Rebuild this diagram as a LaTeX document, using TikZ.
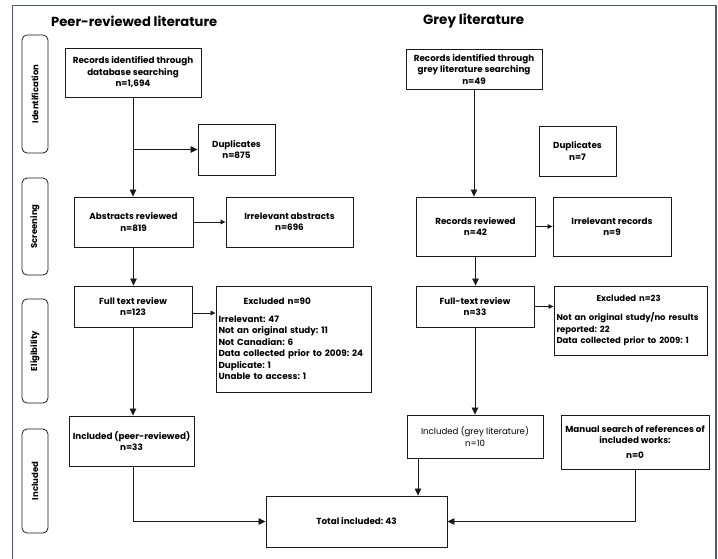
\documentclass[tikz,border=0pt]{standalone}
\usepackage{fontspec}
\usepackage{graphicx}
\setmainfont{Poppins}
\usetikzlibrary{arrows.meta}
\definecolor{framec}{HTML}{4E5A66}
\definecolor{linec}{HTML}{1A1A1A}
\frenchspacing
\hyphenpenalty=10000
\begin{document}
\begin{tikzpicture}[x=1pt,y=-1pt,
  box/.style={draw=linec, line width=0.9pt, fill=white, align=center, inner sep=3pt,
    font=\bfseries\fontsize{8.8}{11.5}\selectfont},
  exbox/.style={box, align=left, inner xsep=2.5pt, inner ysep=5pt},
  stagebox/.style={draw=linec, line width=0.8pt, rounded corners=5pt, rotate=90,
    minimum height=26pt, font=\bfseries\fontsize{8.5}{10}\selectfont},
  ttl/.style={anchor=west, inner sep=0pt, font=\bfseries\fontsize{12}{14}\selectfont},
  arr/.style={draw=linec, line width=0.8pt, -{Triangle[length=7pt,width=6.5pt]}},
  sarr/.style={draw=linec, line width=0.8pt, -{Triangle[length=5pt,width=4.5pt]}}]
\useasboundingbox (0,0) rectangle (718,558);
\draw[framec, line width=1.3pt] (12.5,570) -- (12.5,5.5) -- (716,5.5) -- (716,570);

% titles
\node[ttl] (t1) at (51,21) {\resizebox{166pt}{!}{Peer-reviewed literature}};
\node[ttl] (t2) at (423,21) {\resizebox{101pt}{!}{Grey literature}};

% stage labels
\node[stagebox, minimum width=118pt] (s1) at (35,94) {Identification};
\node[stagebox, minimum width=97pt] (s2) at (35,226.5) {Screening};
\node[stagebox, minimum width=104pt] (s3) at (35,351) {Eligibility};
\node[stagebox, minimum width=104pt] (s4) at (35,481) {Included};

% peer-reviewed column
\node[box, minimum width=136pt, minimum height=49pt] (rec1) at (133,72.5)
  {Records identified through\\database searching\\n=1,694};
\node[box, minimum width=77pt, minimum height=51pt] (dup1) at (236.5,149.5)
  {Duplicates\\n=875};
\node[box, minimum width=119pt, minimum height=50pt] (abs) at (133.5,222)
  {Abstracts reviewed\\n=819};
\node[box, minimum width=127pt, minimum height=50pt] (irrabs) at (289.5,222)
  {Irrelevant abstracts\\n=696};
\node[box, minimum width=118pt, minimum height=41pt] (ftr) at (133,306.5)
  {Full text review\\n=123};
\node[exbox, minimum width=155pt, minimum height=106pt, text width=150pt] (exc90) at (293.5,339)
  {\hspace*{25pt}Excluded n=90\\[6pt]
   Irrelevant: 47\\
   Not an original study: 11\\
   Not Canadian: 6\\
   Data collected prior to 2009: 24\\
   Duplicate: 1\\
   Unable to access: 1};
\node[box, minimum width=125pt, minimum height=50pt] (inc1) at (131.5,441)
  {Included (peer-reviewed)\\n=33};
\node[box, minimum width=181pt, minimum height=51pt] (total) at (356.5,521.5)
  {Total included: 43};

% grey column
\node[box, minimum width=136pt, minimum height=40pt] (rec2) at (474,69)
  {Records identified through\\grey literature searching\\n=49};
\node[box, minimum width=77pt, minimum height=50pt] (dup2) at (577.5,151)
  {Duplicates\\n=7};
\node[box, minimum width=119pt, minimum height=59pt] (recrev) at (475.5,226.5)
  {Records reviewed\\n=42};
\node[box, minimum width=118pt, minimum height=59pt] (irrrec) at (612,226.5)
  {Irrelevant records\\n=9};
\node[box, minimum width=118pt, minimum height=41pt] (ftr2) at (475,306.5)
  {Full-text review\\n=33};
\node[exbox, minimum width=153pt, minimum height=69pt, text width=148pt,
  font=\bfseries\fontsize{8.5}{11.5}\selectfont] (exc23) at (630.5,320.5)
  {\hspace*{40pt}Excluded n=23\\[8pt]
   Not an original study/no results\\
   reported: 22\\
   Data collected prior to 2009: 1};
\node[box, minimum width=136pt, minimum height=43pt, font=\fontsize{8.6}{11.5}\selectfont] (inc2) at (475,436.5)
  {Included (grey literature)\\n=10};
\node[box, minimum width=148pt, minimum height=54pt] (man) at (635,442)
  {Manual search of references of\\included works:\\[3pt]n=0};

% connectors, peer-reviewed
\draw[arr] (rec1.south) -- (rec1.south |- abs.north);
\draw[arr] (rec1.south |- dup1.west) -- (dup1.west);
\draw[sarr] (abs.east) -- (irrabs.west);
\draw[arr] (abs.south) -- (abs.south |- ftr.north);
\draw[sarr] (ftr.east |- 0,313) -- (exc90.west |- 0,313);
\draw[arr] (ftr.south) -- (ftr.south |- inc1.north);
\draw[arr] (ftr.south |- inc1.south) |- (total.west);

% connectors, grey
\draw[arr] (rec2.south) -- (rec2.south |- recrev.north);
\draw[sarr] (recrev.east) -- (irrrec.west);
\draw[arr] (recrev.south) -- (recrev.south |- ftr2.north);
\draw[sarr] (ftr2.east) -- (ftr2.east -| exc23.west);
\draw[arr] (ftr2.south) -- (ftr2.south |- inc2.north);
\draw[arr] (inc2.south -| 418,0) -- (total.north -| 418,0);
\draw[arr] (man.south) |- (total.east);
\end{tikzpicture}
\end{document}
